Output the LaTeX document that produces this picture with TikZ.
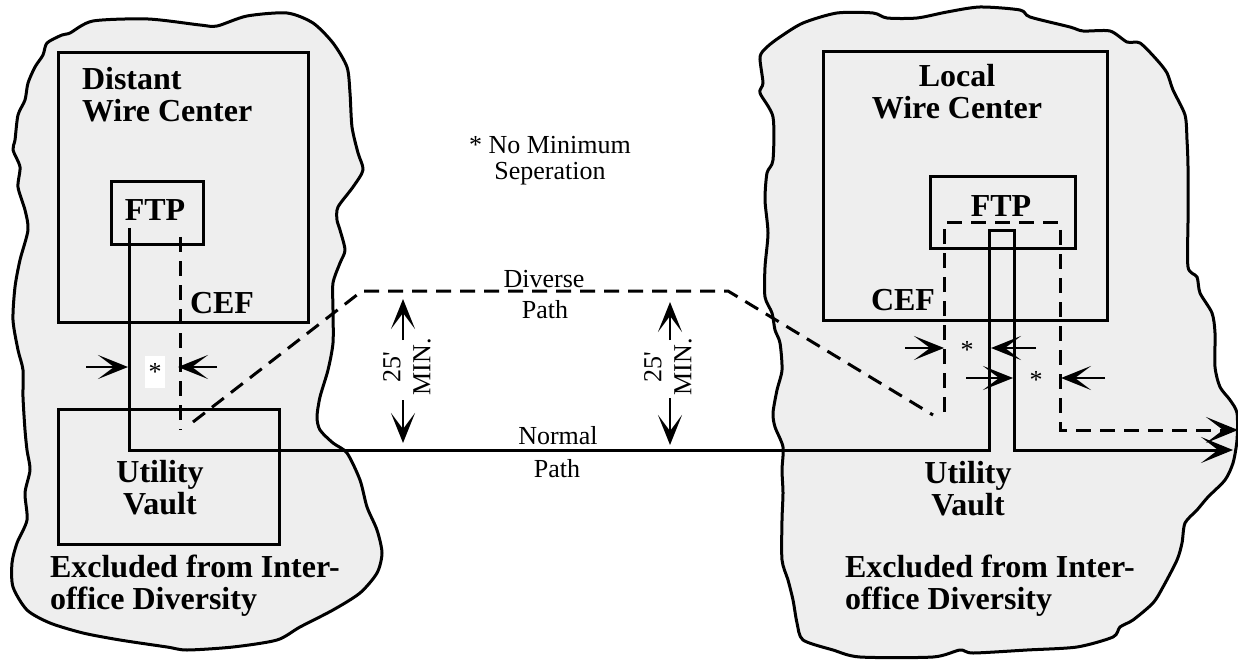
\documentclass[tikz,border=0pt]{standalone}
\usepackage{fontspec}
\setmainfont{Liberation Serif}
\usetikzlibrary{arrows.meta}
\definecolor{blobfill}{RGB}{238,238,238}
\tikzset{
  every node/.style={inner sep=0pt, outer sep=0pt},
  heading/.style={font=\fontsize{32}{32}\selectfont\bfseries},
  plain/.style={font=\fontsize{26}{26}\selectfont},
  box/.style={draw, line width=3pt, rectangle, anchor=north west},
  wire/.style={line width=3pt},
  diverse/.style={wire, dash pattern=on 15pt off 9pt},
  bigtip/.style={-{Stealth[length=32pt,width=26pt,inset=17pt]}},
  gap/.style={line width=2.8pt, -{Stealth[length=30pt,width=24pt,inset=16pt]}},
  blob/.style={draw, line width=3pt, fill=blobfill, line join=round}
}
\begin{document}
\begin{tikzpicture}[x=1pt, y=-1pt]
\useasboundingbox (0,0) rectangle (1238,660);

% ---------- excluded zones ----------
\draw[blob] plot[smooth cycle, tension=0.45] coordinates {
 (43,55) (47,43) (62,35) (70,33) (93,21) (148,19) (200,25) (217,26) (247,16) (287,13)
 (313,23) (333,43) (347,67) (350,93) (352,127) (358,153) (363,170) (353,187) (338,207)
 (337,220) (340,230) (345,250) (340,263) (333,283) (333,310) (333,343) (328,370) (320,397)
 (317,417) (320,430) (333,443) (347,453) (360,480) (367,507) (377,530) (382,553) (377,573)
 (360,593) (333,610) (300,627) (277,640) (233,647) (187,650) (167,647) (120,640) (83,633)
 (50,623) (27,610) (13,587) (12,563) (17,543) (27,520) (25,493) (30,470) (27,450) (25,430)
 (23,397) (23,370) (18,350) (13,320) (15,287) (20,260) (28,230) (25,210) (18,187) (20,167)
 (13,150) (15,140) (18,115) (25,100) (28,83) (35,67)};

\draw[blob] plot[smooth cycle, tension=0.45] coordinates {
 (760,57) (767,47) (780,37) (803,23) (837,13) (873,13) (887,18) (917,18) (947,12) (980,7)
 (1020,10) (1030,17) (1070,27) (1083,31) (1110,31) (1127,42) (1140,43) (1157,60) (1167,73)
 (1173,90) (1185,115) (1187,140) (1188,167) (1188,220) (1188,267) (1197,277) (1200,293)
 (1212,313) (1215,333) (1215,367) (1220,387) (1230,400) (1237,413) (1237,440) (1233,463)
 (1225,480) (1208,497) (1197,510) (1185,523) (1182,543) (1177,560) (1163,587) (1153,603)
 (1133,620) (1120,627) (1113,637) (1077,647) (1027,650) (973,653) (960,650) (933,657)
 (860,657) (833,650) (803,640) (797,623) (793,600) (788,580) (782,560) (782,520) (783,493)
 (782,470) (783,447) (775,427) (773,413) (777,390) (782,370) (780,343) (775,330) (772,313)
 (765,297) (765,267) (768,233) (765,200) (767,173) (773,160) (773,117) (760,93) (763,83)};

% ---------- buildings ----------
\node[box, minimum width=250pt, minimum height=269pt] (dwc) at (58,53) {};
\node[box, minimum width=92pt, minimum height=62pt] (ftpL) at (111,182) {};
\node[box, minimum width=221pt, minimum height=135pt] (vaultL) at (58,409) {};
\node[box, minimum width=284pt, minimum height=268pt] (lwc) at (823,52) {};
\node[box, minimum width=145pt, minimum height=71pt] (ftpR) at (930,177) {};

% ---------- labels (two-line nodes sit on the baseline of their last line) ----------
\node[heading, align=left, anchor=base west] (dwcT) at (82,122) {Distant\\Wire Center};
\node[heading, anchor=base] (ftpLT) at (155,221) {FTP};
\node[heading, anchor=base west] (cefL) at (190,313) {CEF};
\node[heading, align=center, anchor=base] (vaultLT) at (160,514) {Utility\\Vault};
\node[heading, align=left, anchor=base west] (exL) at (50,609) {Excluded from Inter-\\office Diversity};

\node[heading, align=center, anchor=base] (lwcT) at (957,119) {Local\\Wire Center};
\node[heading, anchor=base] (ftpRT) at (1001,217) {FTP};
\node[heading, anchor=base east] (cefR) at (935,310) {CEF};
\node[heading, align=center, anchor=base] (vaultRT) at (968,515) {Utility\\Vault};
\node[heading, align=left, anchor=base west] (exR) at (845,609) {Excluded from Inter-\\office Diversity};

\node[plain, align=center, anchor=base] (note) at (550,180) {* No Minimum\\Seperation};
\node[plain, anchor=base] (divA) at (544,287) {Diverse};
\node[plain, anchor=base] (divB) at (545,318) {Path};
\node[plain, anchor=base] (norA) at (558,444) {Normal};
\node[plain, anchor=base] (norB) at (557,477) {Path};

\node[plain, align=center, rotate=90, font=\fontsize{26}{30}\selectfont] (minL) at (407,367) {25\textquotesingle\\MIN.};
\node[plain, align=center, rotate=90, font=\fontsize{26}{30}\selectfont] (minR) at (668,367) {25\textquotesingle\\MIN.};

% ---------- route points ----------
\coordinate (nStart) at (129,228);
\coordinate (nBend) at (129,450);
\coordinate (nInL) at (989,450);
\coordinate (nTopL) at (989,231);
\coordinate (nTopR) at (1014,231);
\coordinate (nOutR) at (1014,450);
\coordinate (nEnd) at (1233,450);

\coordinate (dStart) at (180,237);
\coordinate (dStop) at (180,430);
\coordinate (dRise) at (193,422);
\coordinate (dTopL) at (362,291);
\coordinate (dTopR) at (728,291);
\coordinate (dFall) at (933,415);
\coordinate (eStart) at (944,412);
\coordinate (eTopL) at (944,223);
\coordinate (eTopR) at (1060,223);
\coordinate (eDown) at (1060,430);
\coordinate (eEnd) at (1238,430);

% ---------- normal path ----------
\draw[wire, bigtip] (nStart) -- (nBend) -- (nInL) -- (nTopL) -- (nTopR) -- (nOutR) -- (nEnd);

% ---------- diverse path ----------
\draw[diverse] (dStart) -- (dStop);
\draw[diverse] (dRise) -- (dTopL) -- (dTopR) -- (dFall);
\draw[diverse, bigtip] (eStart) -- (eTopL) -- (eTopR) -- (eDown) -- (eEnd);

% ---------- separation at the distant end ----------
\node[plain, fill=white, minimum width=20pt, minimum height=32pt] (starL) at (155,372) {*};
\coordinate (sLa) at (86,367);  \coordinate (sLb) at (128,367);
\coordinate (sLc) at (217,367); \coordinate (sLd) at (178,367);
\draw[gap] (sLa) -- (sLb);
\draw[gap] (sLc) -- (sLd);

% ---------- separation at the local end ----------
\node[plain] (starR1) at (967,350) {*};
\node[plain] (starR2) at (1036,380) {*};
\coordinate (sRa) at (905,348);  \coordinate (sRb) at (944,348);
\coordinate (sRc) at (1036,348); \coordinate (sRd) at (991,348);
\coordinate (sRe) at (966,378);  \coordinate (sRf) at (1013,378);
\coordinate (sRg) at (1105,378); \coordinate (sRh) at (1061,378);
\draw[gap] (sRa) -- (sRb);
\draw[gap] (sRc) -- (sRd);
\draw[gap] (sRe) -- (sRf);
\draw[gap] (sRg) -- (sRh);

% ---------- 25 ft minimum spacing ----------
\coordinate (mLa) at (403,340); \coordinate (mLb) at (403,299);
\coordinate (mLc) at (403,400); \coordinate (mLd) at (403,443);
\coordinate (mRa) at (670,340); \coordinate (mRb) at (670,302);
\coordinate (mRc) at (670,398); \coordinate (mRd) at (670,445);
\draw[gap] (mLa) -- (mLb);
\draw[gap] (mLc) -- (mLd);
\draw[gap] (mRa) -- (mRb);
\draw[gap] (mRc) -- (mRd);
\end{tikzpicture}
\end{document}
